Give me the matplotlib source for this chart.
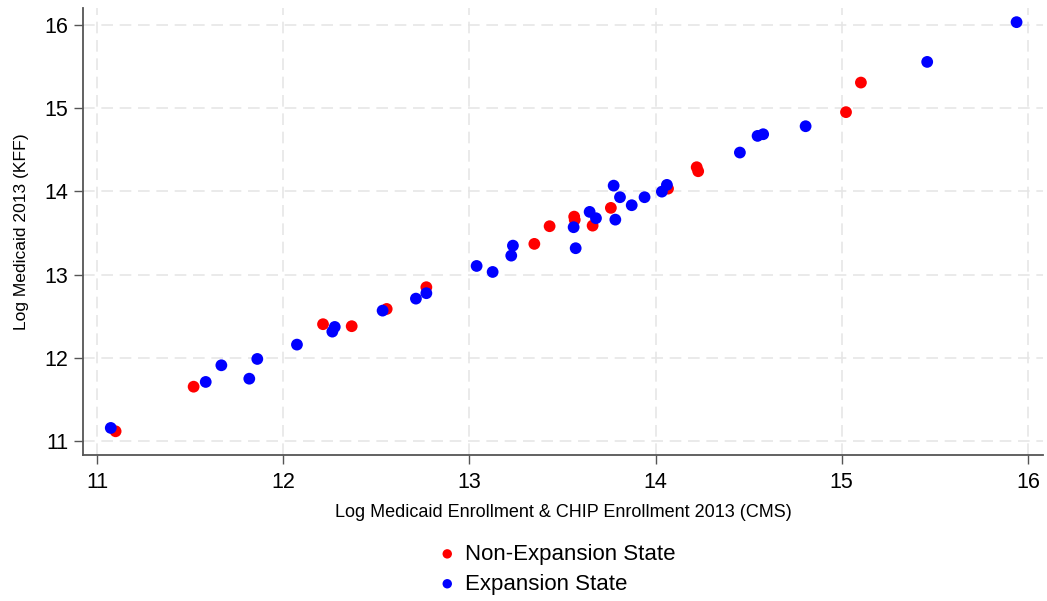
"""Log Medicaid enrollment: KFF vs CMS, 2013, by expansion status."""

import matplotlib.pyplot as plt
import numpy as np

plt.rcParams['font.family'] = ['Liberation Sans', 'DejaVu Sans']

## non-expansion states (red)
nonexp_cms = [11.100, 11.519, 12.214, 12.368, 12.556, 12.769, 13.349, 13.431,
              13.563, 13.566, 13.662, 13.760, 14.067, 14.221, 14.229, 15.023,
              15.103]
nonexp_kff = [11.120, 11.655, 12.405, 12.381, 12.588, 12.849, 13.369, 13.581,
              13.696, 13.657, 13.588, 13.801, 14.032, 14.289, 14.241, 14.950,
              15.305]

## expansion states (blue)
exp_cms = [11.074, 11.584, 11.668, 11.818, 11.861, 12.074, 12.277, 12.264,
           12.534, 12.713, 12.769, 13.039, 13.125, 13.225, 13.234, 13.560,
           13.571, 13.646, 13.680, 13.784, 13.775, 13.809, 13.872, 13.941,
           14.034, 14.061, 14.453, 14.548, 14.578, 14.806, 15.459, 15.939]
exp_kff = [11.160, 11.712, 11.912, 11.751, 11.988, 12.160, 12.372, 12.316,
           12.568, 12.712, 12.777, 13.104, 13.032, 13.228, 13.348, 13.569,
           13.317, 13.753, 13.677, 13.660, 14.068, 13.929, 13.833, 13.929,
           13.996, 14.077, 14.465, 14.665, 14.685, 14.781, 15.553, 16.030]

ticks = [11, 12, 13, 14, 15, 16]

fig = plt.figure(figsize=(10.47, 6.01), dpi=100)
ax = fig.add_axes([0.0793, 0.2429, 0.9167, 0.7438])

ax.scatter(nonexp_cms, nonexp_kff, s=72, color='#ff0000', edgecolors='none',
           label='Non-Expansion State', zorder=3)
ax.scatter(exp_cms, exp_kff, s=72, color='#0000ff', edgecolors='none',
           label='Expansion State', zorder=4)

ax.set_xlim(10.925, 16.08)
ax.set_ylim(10.835, 16.2)
ax.set_xticks(ticks)
ax.set_yticks(ticks)
ax.grid(True, color='#e6e6e6', linestyle=(0, (7, 4)), linewidth=1.2, zorder=0)

for side in ['top', 'right']:
    ax.spines[side].set_visible(False)
for side in ['left', 'bottom']:
    ax.spines[side].set_color('#555555')
    ax.spines[side].set_linewidth(1.3)

ax.tick_params(axis='both', labelsize=15.5, length=6.5, width=1,
               color='#555555', pad=4)
ax.tick_params(axis='x', pad=6)

ax.set_xlabel('Log Medicaid Enrollment & CHIP Enrollment 2013 (CMS)',
              fontsize=13, labelpad=8)
ax.set_ylabel('Log Medicaid 2013 (KFF)', fontsize=12.6, labelpad=11)

leg = fig.legend(loc='center', bbox_to_anchor=(0.533, 0.053), frameon=False,
                 fontsize=16, markerscale=0.8, handlelength=0.6,
                 handletextpad=0.5, labelspacing=0.4, borderpad=0)

fig.savefig('out.png', dpi=100)
